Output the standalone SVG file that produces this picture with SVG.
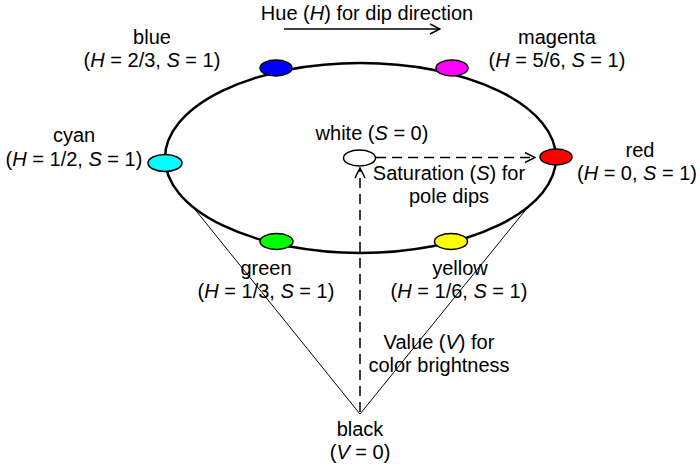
<svg xmlns="http://www.w3.org/2000/svg" width="700" height="467" viewBox="0 0 700 467">
<defs>
<style>
text{font-family:"Liberation Sans",Arial,sans-serif;font-size:20px;fill:#000;text-anchor:middle}
.i{font-style:italic}
.dot{stroke:#000;stroke-width:1.5}
.cone{stroke:#000;stroke-width:1;fill:none}
.dash{stroke:#000;stroke-width:1.5;stroke-dasharray:10,6;fill:none}
</style>
<marker id="ah" viewBox="0 0 12 12" refX="11" refY="6" markerWidth="12" markerHeight="12" markerUnits="userSpaceOnUse" orient="auto">
<path d="M1,1 L11,6 L1,11" fill="none" stroke="#000" stroke-width="1.5"/>
</marker>
</defs>
<rect width="700" height="467" fill="#fff"/>
<g id="connectors">
<ellipse id="wheel" cx="360.5" cy="158" rx="195.5" ry="95" fill="none" stroke="#000" stroke-width="2.5"/>
<line class="cone" x1="193" y1="207" x2="360" y2="414"/>
<line class="cone" x1="528" y1="207" x2="360" y2="414"/>
<line x1="284" y1="29" x2="440" y2="29" stroke="#000" stroke-width="1.5" marker-end="url(#ah)"/>
<line class="dash" x1="376" y1="157.5" x2="535" y2="157.5" marker-end="url(#ah)"/>
<line class="dash" x1="360" y1="412" x2="360" y2="168" marker-end="url(#ah)"/>
</g>
<g id="hue-label"><text x="367" y="20">Hue (<tspan class="i">H</tspan>) for dip direction</text></g>
<g id="blue">
<ellipse class="dot" cx="276" cy="68" rx="16" ry="8" fill="#0000ff"/>
<text x="152" y="44">blue</text>
<text x="152" y="67">(<tspan class="i">H</tspan> = 2/3, <tspan class="i">S</tspan> = 1)</text>
</g>
<g id="magenta">
<ellipse class="dot" cx="452" cy="68" rx="16" ry="8" fill="#ff00ff"/>
<text x="557" y="44">magenta</text>
<text x="557" y="67">(<tspan class="i">H</tspan> = 5/6, <tspan class="i">S</tspan> = 1)</text>
</g>
<g id="cyan">
<ellipse class="dot" cx="165" cy="163" rx="17" ry="8.5" fill="#00ffff"/>
<text x="74" y="142">cyan</text>
<text x="74" y="166">(<tspan class="i">H</tspan> = 1/2, <tspan class="i">S</tspan> = 1)</text>
</g>
<g id="red">
<ellipse class="dot" cx="556" cy="157" rx="16" ry="8" fill="#ff0000"/>
<text x="640" y="157">red</text>
<text x="637" y="180">(<tspan class="i">H</tspan> = 0, <tspan class="i">S</tspan> = 1)</text>
</g>
<g id="white">
<ellipse class="dot" cx="359.5" cy="158" rx="16" ry="8" fill="#fff"/>
<text x="372" y="140">white (<tspan class="i">S</tspan> = 0)</text>
</g>
<g id="saturation-label">
<text x="449" y="180">Saturation (<tspan class="i">S</tspan>) for</text>
<text x="449" y="203">pole dips</text>
</g>
<g id="green">
<ellipse class="dot" cx="276.5" cy="241.5" rx="16.5" ry="8" fill="#00ff00"/>
<text x="266" y="275">green</text>
<text x="266" y="298">(<tspan class="i">H</tspan> = 1/3, <tspan class="i">S</tspan> = 1)</text>
</g>
<g id="yellow">
<ellipse class="dot" cx="451" cy="241.5" rx="16.5" ry="8" fill="#ffff00"/>
<text x="460" y="275">yellow</text>
<text x="459" y="298">(<tspan class="i">H</tspan> = 1/6, <tspan class="i">S</tspan> = 1)</text>
</g>
<g id="value-label">
<text x="439" y="349">Value (<tspan class="i">V</tspan>) for</text>
<text x="439" y="372">color brightness</text>
</g>
<g id="black">
<text x="360" y="436">black</text>
<text x="360" y="459">(<tspan class="i">V</tspan> = 0)</text>
</g>
</svg>
